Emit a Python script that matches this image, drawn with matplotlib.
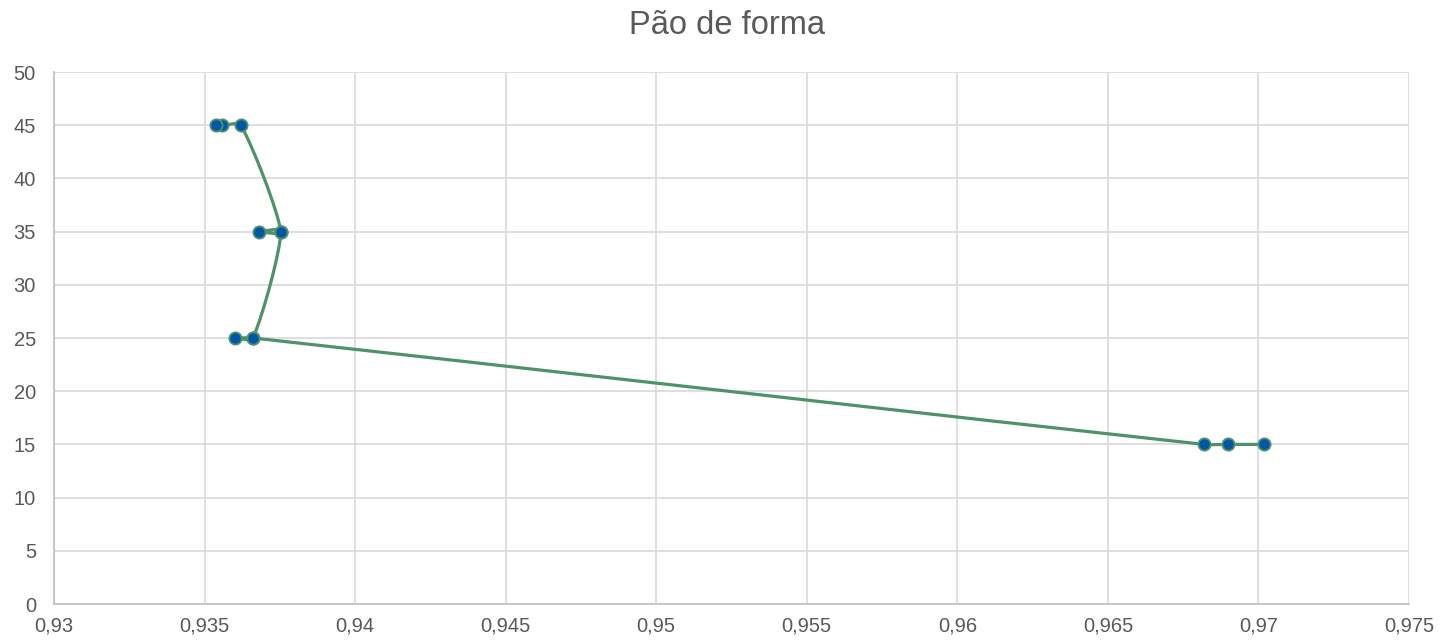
import numpy as np
import matplotlib.pyplot as plt
from matplotlib.path import Path
from matplotlib.patches import PathPatch
from matplotlib.ticker import FuncFormatter, MultipleLocator

plt.rcParams['font.family'] = ['Liberation Sans', 'DejaVu Sans']

# === Data (three readings per temperature level) ===
temperature = [15, 15, 15, 25, 25, 25, 35, 35, 35, 45, 45, 45]
ratio = [0.97018, 0.96899, 0.96819,
         0.93661, 0.93601, 0.93661,
         0.93754, 0.93681, 0.93754,
         0.93621, 0.93559, 0.93539]

line_color = '#4f9168'
marker_color = '#0057a8'
text_color = '#595959'
grid_color = '#d9d9d9'

x_range = (0.93, 0.975)
y_range = (0, 50)


def smooth_path(ax, x, y, tension=0.25):
    # cubic Bezier through every point, tangents scaled by segment length in screen space
    to_px = ax.transData
    pts = to_px.transform(np.column_stack([x, y]))
    n = len(pts)
    d = np.linalg.norm(np.diff(pts, axis=0), axis=1)
    verts = [pts[0]]
    codes = [Path.MOVETO]
    for i in range(n - 1):
        p1, p2 = pts[i], pts[i + 1]
        if i > 0:
            span = d[i - 1] + d[i]
            c1 = p1 + (p2 - pts[i - 1]) * tension * d[i] / span if span > 0 else p1
        else:
            c1 = p1 + (p2 - p1) * tension / 2
        if i + 2 < n:
            span = d[i] + d[i + 1]
            c2 = p2 - (pts[i + 2] - p1) * tension * d[i] / span if span > 0 else p2
        else:
            c2 = p2 - (p2 - p1) * tension / 2
        verts += [c1, c2, p2]
        codes += [Path.CURVE4] * 3
    verts = to_px.inverted().transform(np.array(verts))
    return Path(verts, codes)


fig, ax = plt.subplots(figsize=(14.54, 6.42), dpi=100)
fig.subplots_adjust(left=54 / 1454, right=1409 / 1454, top=1 - 72 / 642, bottom=1 - 604 / 642)
ax.set_xlim(*x_range)
ax.set_ylim(*y_range)

ax.add_patch(PathPatch(smooth_path(ax, ratio, temperature), facecolor='none',
                       edgecolor=line_color, linewidth=2.3, zorder=3))
ax.plot(ratio, temperature, linestyle='none', marker='o', markersize=8.8,
        markerfacecolor=marker_color, markeredgecolor=line_color,
        markeredgewidth=1.3, zorder=4)

ax.xaxis.set_major_locator(MultipleLocator(0.005))
ax.yaxis.set_major_locator(MultipleLocator(5))
ax.xaxis.set_major_formatter(FuncFormatter(lambda v, p: ('%g' % round(v, 4)).replace('.', ',')))
ax.yaxis.set_major_formatter(FuncFormatter(lambda v, p: '%d' % v))

ax.grid(True, color=grid_color, linewidth=1.2)
ax.set_axisbelow(True)
for side in ['top', 'right']:
    ax.spines[side].set_visible(False)
for side in ['left', 'bottom']:
    ax.spines[side].set_color('#bfbfbf')
    ax.spines[side].set_linewidth(1.2)

ax.tick_params(axis='both', length=0, labelsize=14.5, labelcolor=text_color)
ax.tick_params(axis='x', pad=9)
ax.tick_params(axis='y', pad=13)

fig.suptitle('Pão de forma', fontsize=23.5, color=text_color, y=1 - 25 / 642, va='center')

fig.savefig('out.png', dpi=100)
